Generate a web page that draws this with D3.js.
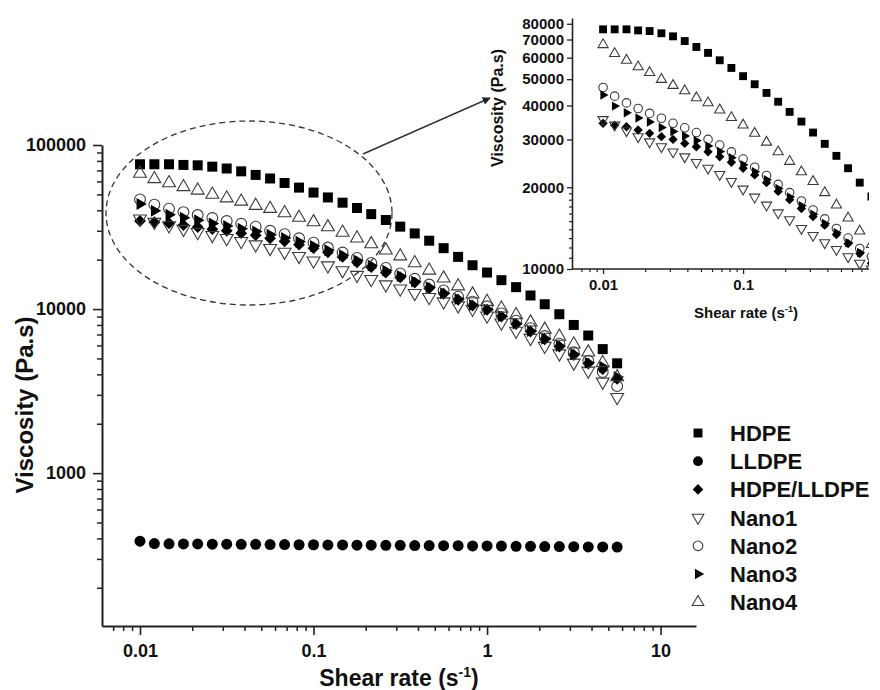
<!DOCTYPE html>
<html>
<head>
<meta charset="utf-8">
<script src="https://cdn.jsdelivr.net/npm/d3@7"></script>
<style>
  body { margin: 0; background: #fff; }
  svg { font-family: "Liberation Sans", Arial, sans-serif; font-weight: bold; }
</style>
</head>
<body>
<div id="chart"></div>
<script>
// shear rate (1/s), shared by all series
const shearRate = [0.01, 0.0121, 0.0147, 0.0178, 0.0215, 0.0261, 0.0316, 0.0383, 0.0464, 0.0562,
  0.0681, 0.0825, 0.1, 0.121, 0.147, 0.178, 0.215, 0.261, 0.316, 0.383, 0.464, 0.562, 0.681, 0.825,
  1, 1.21, 1.47, 1.78, 2.15, 2.61, 3.16, 3.83, 4.64, 5.62];
// viscosity (Pa.s)
const hdpe = [76300, 76300, 76300, 75600, 75200, 73800, 71900, 69100, 65700, 62500, 58700, 55000,
  51300, 47900, 44500, 41300, 37900, 34900, 31800, 28900, 26100, 23500, 20800, 18500,
  16700, 15000, 13600, 12100, 10700, 9300, 8000, 6900, 5700, 4670];
const lldpe = [385, 372, 371, 370, 370, 369, 369, 368, 368, 367, 367, 366, 366, 365, 365, 364, 364,
  363, 363, 362, 362, 361, 361, 360, 360, 359, 358, 358, 357, 357, 356, 355, 355, 354];
const hdpeLldpe = [34400, 33800, 33400, 32500, 31600, 30700, 30000, 29000, 28200, 27000, 25900, 24700,
  23500, 22200, 20800, 19300, 18000, 16700, 15600, 14500, 13400, 12400, 11400, 10500,
  9900, 9000, 8100, 7300, 6550, 5900, 5250, 4650, 4300, 3750];
const nano1 = [35500, 33900, 32300, 30700, 29400, 28200, 27000, 25900, 24700, 23500, 22300, 21000,
  19700, 18400, 17200, 16100, 15200, 14100, 13300, 12500, 11800, 11100, 10500, 10000,
  9100, 8250, 7350, 6650, 5950, 5350, 4700, 4200, 3600, 2900];
const nano2 = [46600, 43300, 40900, 39000, 37400, 35900, 34400, 33100, 31800, 30000, 28600, 27000,
  25400, 23700, 22100, 20500, 19100, 17800, 16500, 15300, 14100, 13000, 11900, 11100,
  10400, 9400, 8500, 7650, 6850, 6150, 5450, 4850, 4130, 3390];
const nano3 = [43700, 39800, 37600, 36000, 34800, 33200, 32100, 30900, 29700, 28400, 27100, 25700,
  24200, 22800, 21300, 19800, 18400, 17100, 15900, 14700, 13600, 12500, 11500, 10600,
  9950, 9050, 8150, 7350, 6600, 5950, 5300, 4700, 4450, 3850];
const nano4 = [67000, 62100, 58700, 55500, 52900, 49900, 47400, 45300, 42700, 40900, 38500, 36100,
  33900, 31600, 29300, 27000, 24900, 22800, 21000, 19100, 17200, 15400, 13800, 12300,
  11100, 10100, 9200, 8300, 7500, 6800, 6100, 5450, 4700, 3850];

const seriesNames = ['HDPE', 'LLDPE', 'HDPE/LLDPE', 'Nano1', 'Nano2', 'Nano3', 'Nano4'];
const seriesValues = [hdpe, lldpe, hdpeLldpe, nano1, nano2, nano3, nano4];

const mainXTicks = [0.01, 0.1, 1, 10];
const mainXTickLabels = ['0.01', '0.1', '1', '10'];
const mainYTicks = [1000, 10000, 100000];
const mainYTickLabels = ['1000', '10000', '100000'];
const insetXTicks = [0.01, 0.1];
const insetXTickLabels = ['0.01', '0.1'];
const insetYTicks = [10000, 20000, 30000, 40000, 50000, 60000, 70000, 80000];
const insetYTickLabels = ['10000', '20000', '30000', '40000', '50000', '60000', '70000', '80000'];

const width_svg = 880, height_svg = 690;
const svg = d3.select('#chart').append('svg')
  .attr('width', width_svg)
  .attr('height', height_svg);

const markerRule = {
  'HDPE':       {type: d3.symbolSquare,   rotate: 0,   fill: '#000', size: 100},
  'LLDPE':      {type: d3.symbolCircle,   rotate: 0,   fill: '#000', size: 95},
  'HDPE/LLDPE': {type: d3.symbolSquare,   rotate: 45,  fill: '#000', size: 70},
  'Nano1':      {type: d3.symbolTriangle, rotate: 180, fill: 'none', size: 72},
  'Nano2':      {type: d3.symbolCircle,   rotate: 0,   fill: 'none', size: 92},
  'Nano3':      {type: d3.symbolTriangle, rotate: 90,  fill: '#000', size: 62},
  'Nano4':      {type: d3.symbolTriangle, rotate: 0,   fill: 'none', size: 72}
};

const data = seriesNames.map((name, k) => ({
  name: name,
  value: shearRate.map((x, i) => [x, seriesValues[k][i]])
}));

function minorRange(decades) {
  let out = [];
  decades.forEach(d => { for (let m = 2; m <= 9; m++) out.push(+(m * d).toPrecision(3)); });
  return out;
}

function drawPoints(g, xScale, yScale, scaleSize) {
  data.forEach(s => {
    let rule = markerRule[s.name];
    let sym = d3.symbol().type(rule.type).size(rule.size * scaleSize);
    g.append('g')
      .selectAll('path')
      .data(s.value)
      .enter().append('path')
      .attr('transform', d => `translate(${xScale(d[0])},${yScale(d[1])}) rotate(${rule.rotate})`)
      .attr('d', sym)
      .attr('fill', rule.fill)
      .attr('stroke', rule.fill === 'none' ? '#3a3a3a' : 'none')
      .attr('stroke-width', 1.1);
  });
}

// ---------- main plot ----------
const margin = {top: 145, left: 102, bottom: 626, right: 696};
const xScale = d3.scaleLog().domain([0.00604, 16]).range([margin.left, margin.right]);
const yScale = d3.scaleLog().domain([117, 100000]).range([margin.bottom, margin.top]);

let mainXMinor = [0.007, 0.008, 0.009].concat(minorRange([0.01, 0.1, 1]));
let mainYMinor = [300, 400, 500, 600, 700, 800, 900].concat([200]).concat(minorRange([1000, 10000]));

svg.append('g')
  .attr('transform', `translate(0,${margin.bottom})`)
  .call(d3.axisBottom(xScale).tickValues(mainXMinor).tickSize(5).tickFormat(''))
  .call(g => g.select('.domain').remove())
  .call(g => g.selectAll('.tick line').attr('stroke', '#222').attr('stroke-width', 1.5));
svg.append('g')
  .attr('transform', `translate(0,${margin.bottom})`)
  .call(d3.axisBottom(xScale).tickValues(mainXTicks).tickSize(9).tickPadding(9)
    .tickFormat((d, i) => mainXTickLabels[i]).tickSizeOuter(0))
  .call(g => g.select('.domain').attr('stroke', '#222').attr('stroke-width', 2))
  .call(g => g.selectAll('.tick line').attr('stroke', '#222').attr('stroke-width', 1.6))
  .call(g => g.selectAll('.tick text').attr('font-size', 18).attr('font-weight', 'bold')
    .attr('fill', '#111').attr('font-family', '"Liberation Sans", Arial, sans-serif'));

svg.append('g')
  .attr('transform', `translate(${margin.left},0)`)
  .call(d3.axisLeft(yScale).tickValues(mainYMinor).tickSize(5).tickFormat(''))
  .call(g => g.select('.domain').remove())
  .call(g => g.selectAll('.tick line').attr('stroke', '#222').attr('stroke-width', 1.5));
svg.append('g')
  .attr('transform', `translate(${margin.left},0)`)
  .call(d3.axisLeft(yScale).tickValues(mainYTicks).tickSize(9).tickPadding(7)
    .tickFormat((d, i) => mainYTickLabels[i]).tickSizeOuter(0))
  .call(g => g.select('.domain').attr('stroke', '#222').attr('stroke-width', 2))
  .call(g => g.selectAll('.tick line').attr('stroke', '#222').attr('stroke-width', 1.6))
  .call(g => g.selectAll('.tick text').attr('font-size', 18).attr('font-weight', 'bold')
    .attr('fill', '#111').attr('font-family', '"Liberation Sans", Arial, sans-serif'));

// axis titles
let xTitle = svg.append('text')
  .attr('x', 399).attr('y', 686)
  .attr('text-anchor', 'middle')
  .attr('font-size', 23).attr('fill', '#111');
xTitle.append('tspan').text('Shear rate (s');
xTitle.append('tspan').attr('dy', -9).attr('font-size', 14).text('-1');
xTitle.append('tspan').attr('dy', 9).text(')');

svg.append('text')
  .attr('transform', 'translate(33,405) rotate(-90)')
  .attr('text-anchor', 'middle')
  .attr('font-size', 24).attr('fill', '#111')
  .text('Viscosity (Pa.s)');

drawPoints(svg.append('g'), xScale, yScale, 1);

// dashed ellipse + arrow
svg.append('ellipse')
  .attr('cx', 249).attr('cy', 213).attr('rx', 143).attr('ry', 92)
  .attr('fill', 'none').attr('stroke', '#333').attr('stroke-width', 1.3)
  .attr('stroke-dasharray', '6,4');
svg.append('defs').append('marker')
  .attr('id', 'arrowHead')
  .attr('viewBox', '0 0 10 10').attr('refX', 9).attr('refY', 5)
  .attr('markerWidth', 10).attr('markerHeight', 8)
  .attr('markerUnits', 'userSpaceOnUse')
  .attr('orient', 'auto')
  .append('path').attr('d', 'M0,0 L10,5 L0,10 Z').attr('fill', '#222');
svg.append('line')
  .attr('x1', 363).attr('y1', 154).attr('x2', 490).attr('y2', 98)
  .attr('stroke', '#333').attr('stroke-width', 1.4)
  .attr('marker-end', 'url(#arrowHead)');

// ---------- legend ----------
let g_legend = svg.append('g').attr('transform', 'translate(698,433)');
seriesNames.forEach((name, i) => {
  let rule = markerRule[name];
  g_legend.append('path')
    .attr('transform', `translate(0,${i * 28.2}) rotate(${rule.rotate})`)
    .attr('d', d3.symbol().type(rule.type).size(rule.size * 0.8))
    .attr('fill', rule.fill)
    .attr('stroke', rule.fill === 'none' ? '#3a3a3a' : 'none')
    .attr('stroke-width', 1.1);
  g_legend.append('text')
    .attr('x', 32).attr('y', i * 28.2).attr('dy', '0.36em')
    .attr('font-size', 22).attr('fill', '#111')
    .text(name);
});

// ---------- inset ----------
const inset = {left: 572, right: 869, top: 18, bottom: 269};
const xInset = d3.scaleLog().domain([0.006, 0.78]).range([inset.left, 868]);
const yInset = d3.scaleLog().domain([10000, 84000]).range([inset.bottom, inset.top]);

svg.append('clipPath').attr('id', 'clipInset')
  .append('rect')
  .attr('x', inset.left).attr('y', inset.top - 8)
  .attr('width', inset.right - inset.left).attr('height', inset.bottom - inset.top + 8);

let insetXMinor = [0.007, 0.008, 0.009].concat(minorRange([0.01]))
  .concat([0.2, 0.3, 0.4, 0.5, 0.6, 0.7]);
let insetYMinor = [11000, 12000, 13000, 14000, 15000, 16000, 17000, 18000, 19000];

svg.append('g')
  .attr('transform', `translate(0,${inset.bottom})`)
  .call(d3.axisBottom(xInset).tickValues(insetXMinor).tickSize(3).tickFormat(''))
  .call(g => g.select('.domain').remove())
  .call(g => g.selectAll('.tick line').attr('stroke', '#222').attr('stroke-width', 1.2));
svg.append('g')
  .attr('transform', `translate(0,${inset.bottom})`)
  .call(d3.axisBottom(xInset).tickValues(insetXTicks).tickSize(5).tickPadding(5)
    .tickFormat((d, i) => insetXTickLabels[i]).tickSizeOuter(0))
  .call(g => g.select('.domain').attr('d', `M${inset.left},0H${inset.right}`)
    .attr('stroke', '#222').attr('stroke-width', 1.6))
  .call(g => g.selectAll('.tick line').attr('stroke', '#222').attr('stroke-width', 1.3))
  .call(g => g.selectAll('.tick text').attr('font-size', 15).attr('font-weight', 'bold')
    .attr('fill', '#111').attr('font-family', '"Liberation Sans", Arial, sans-serif'));

svg.append('g')
  .attr('transform', `translate(${inset.left},0)`)
  .call(d3.axisLeft(yInset).tickValues(insetYMinor).tickSize(3).tickFormat(''))
  .call(g => g.select('.domain').remove())
  .call(g => g.selectAll('.tick line').attr('stroke', '#222').attr('stroke-width', 1.2));
svg.append('g')
  .attr('transform', `translate(${inset.left},0)`)
  .call(d3.axisLeft(yInset).tickValues(insetYTicks).tickSize(5).tickPadding(3)
    .tickFormat((d, i) => insetYTickLabels[i]).tickSizeOuter(0))
  .call(g => g.select('.domain').attr('stroke', '#222').attr('stroke-width', 1.6))
  .call(g => g.selectAll('.tick line').attr('stroke', '#222').attr('stroke-width', 1.3))
  .call(g => g.selectAll('.tick text').attr('font-size', 15).attr('font-weight', 'bold')
    .attr('fill', '#111').attr('font-family', '"Liberation Sans", Arial, sans-serif'));

let xTitleInset = svg.append('text')
  .attr('x', 746).attr('y', 318)
  .attr('text-anchor', 'middle')
  .attr('font-size', 15).attr('fill', '#111');
xTitleInset.append('tspan').text('Shear rate (s');
xTitleInset.append('tspan').attr('dy', -6).attr('font-size', 9).text('-1');
xTitleInset.append('tspan').attr('dy', 6).text(')');

svg.append('text')
  .attr('transform', 'translate(503,108) rotate(-90)')
  .attr('text-anchor', 'middle')
  .attr('font-size', 16).attr('fill', '#111')
  .text('Viscosity (Pa.s)');

drawPoints(svg.append('g').attr('clip-path', 'url(#clipInset)'), xInset, yInset, 0.62);
</script>
</body>
</html>
